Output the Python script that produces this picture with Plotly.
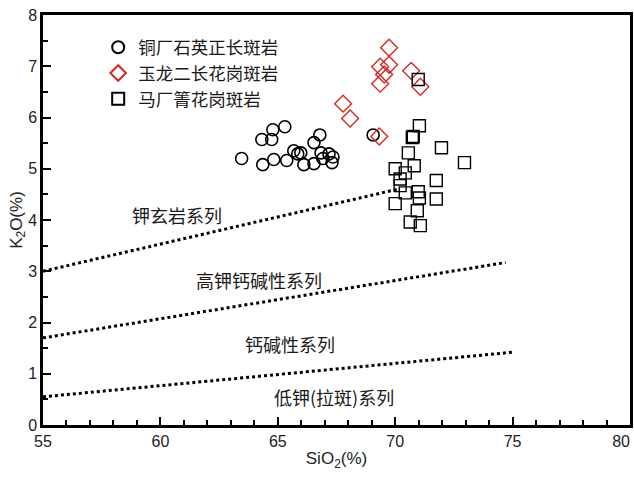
import plotly.graph_objects as go

# 铜厂石英正长斑岩 (circles)
tc_sio2 = [63.46, 64.36, 64.32, 64.74, 64.79, 65.30, 64.83, 65.38, 65.68, 65.85, 65.98,
           66.11, 66.54, 66.54, 66.79, 66.84, 66.92, 67.18, 67.31, 67.35, 69.06]
tc_k2o = [5.20, 5.08, 5.57, 5.57, 5.76, 5.82, 5.18, 5.16, 5.35, 5.29, 5.31,
          5.08, 5.10, 5.51, 5.66, 5.31, 5.20, 5.29, 5.12, 5.23, 5.66]

# 玉龙二长花岗斑岩 (diamonds)
yl_sio2 = [69.74, 69.36, 69.74, 69.53, 69.36, 70.68, 71.07, 67.78, 68.08, 69.32]
yl_k2o = [7.36, 6.99, 7.03, 6.84, 6.66, 6.91, 6.60, 6.27, 5.98, 5.63]

# 马厂箐花岗斑岩 (squares)
mc_sio2 = [70.98, 71.03, 70.77, 70.73, 71.97, 72.95, 70.56, 70.81, 70.00, 70.43, 70.21,
           70.21, 71.75, 70.43, 70.98, 71.03, 71.75, 70.00, 70.94, 70.64, 71.07]
mc_k2o = [6.74, 5.84, 5.63, 5.61, 5.41, 5.12, 5.31, 5.06, 5.00, 4.92, 4.80,
          4.67, 4.77, 4.53, 4.55, 4.43, 4.41, 4.32, 4.18, 3.96, 3.89]

# Series boundary lines
line1_x = [55, 70.1]
line1_y = [3.0, 4.6]
line2_x = [55, 74.7]
line2_y = [1.7, 3.17]
line3_x = [55, 75.0]
line3_y = [0.55, 1.42]

labels = ["钾玄岩系列", "高钾钙碱性系列", "钙碱性系列", "低钾(拉斑)系列"]
label_x = [60.7, 64.2, 65.5, 67.4]
label_y = [4.09, 2.82, 1.58, 0.55]

x_tickvals = [55, 60, 65, 70, 75, 80]
x_ticktext = ["55", "60", "65", "70", "75", "80\u00a0\u00a0\u00a0\u00a0"]
y_tickvals = [0, 1, 2, 3, 4, 5, 6, 7, 8]
y_ticktext = ["0", "1", "2", "3", "4", "5", "6", "7", "8"]

cjk = "Noto Sans CJK SC, Noto Sans, sans-serif"
latin = "Liberation Sans, Arial, sans-serif"

fig = go.Figure()

for lx, ly in [(line1_x, line1_y), (line2_x, line2_y), (line3_x, line3_y)]:
    fig.add_trace(go.Scatter(x=lx, y=ly, mode="lines", showlegend=False,
                             line=dict(color="black", width=3, dash="dot"),
                             hoverinfo="skip"))

fig.add_trace(go.Scatter(x=tc_sio2, y=tc_k2o, mode="markers", name="铜厂石英正长斑岩",
                         marker=dict(symbol="circle-open", size=12,
                                     color="black", line=dict(width=1.6, color="black"))))
fig.add_trace(go.Scatter(x=yl_sio2, y=yl_k2o, mode="markers", name="玉龙二长花岗斑岩",
                         marker=dict(symbol="diamond-open", size=13,
                                     color="#d42a22", line=dict(width=1.4, color="#d42a22"))))
fig.add_trace(go.Scatter(x=mc_sio2, y=mc_k2o, mode="markers", name="马厂箐花岗斑岩",
                         marker=dict(symbol="square-open", size=12,
                                     color="black", line=dict(width=1.4, color="black"))))

for t, x, y in zip(labels, label_x, label_y):
    fig.add_annotation(x=x, y=y, text=t, showarrow=False,
                       font=dict(family=cjk, size=18, color="#1a1a1a"))

fig.update_layout(
    width=634, height=478,
    margin=dict(l=43, r=4, t=15, b=53),
    paper_bgcolor="white", plot_bgcolor="white",
    font=dict(family=latin, size=16, color="#222222"),
    legend=dict(x=0.094, y=0.965, xanchor="left", yanchor="top",
                bgcolor="rgba(0,0,0,0)", font=dict(family=cjk, size=17.5, color="#1a1a1a"),
                itemsizing="constant", tracegroupgap=0, itemwidth=30),
    showlegend=True,
)

fig.update_xaxes(
    range=[55, 80], tickmode="array", tickvals=x_tickvals, ticktext=x_ticktext,
    showgrid=False, zeroline=False, automargin=False, ticklabeloverflow="allow",
    showline=True, linewidth=2.5, linecolor="black", mirror=True,
    ticks="inside", ticklen=8, tickwidth=2, tickcolor="black",
    minor=dict(dtick=1, tick0=55, ticks="inside", ticklen=5, tickwidth=1.5, tickcolor="black", showgrid=False),
    title=dict(text="SiO<sub>2</sub>(%)", font=dict(size=17), standoff=4),
    tickfont=dict(size=16),
)
fig.update_yaxes(
    range=[0, 8], tickmode="array", tickvals=y_tickvals, ticktext=y_ticktext,
    showgrid=False, zeroline=False, automargin=False, ticklabeloverflow="allow",
    showline=True, linewidth=2.5, linecolor="black", mirror=True,
    ticks="inside", ticklen=8, tickwidth=2, tickcolor="black",
    minor=dict(dtick=0.5, tick0=0, ticks="inside", ticklen=5, tickwidth=1.5, tickcolor="black", showgrid=False),
    title=dict(text="K<sub>2</sub>O(%)", font=dict(size=17), standoff=0),
    tickfont=dict(size=16),
)

fig.write_html(
    "out.html",
    config={"displayModeBar": False},
    post_script="document.body.style.margin='0';document.body.style.overflow='hidden';"
                "document.documentElement.style.overflow='hidden';",
)
